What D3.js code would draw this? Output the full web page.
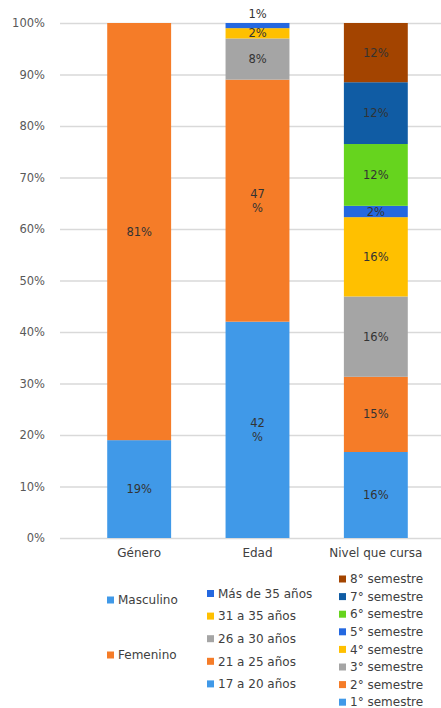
<!DOCTYPE html>
<html lang="es">
<head>
  <meta charset="UTF-8">
  <title>Género, Edad y Nivel que cursa</title>
  <style>
    body {
      margin: 0;
      background-color: #fff;
      font-family: "DejaVu Sans", sans-serif;
    }
    svg text {
      font-family: "DejaVu Sans", sans-serif;
    }
  </style>
  <script src="https://d3js.org/d3.v7.min.js"></script>
</head>
<body>
  <div id="chart"></div>

  <script>
    // Categories on the x axis
    const categories = ['Género', 'Edad', 'Nivel que cursa'];

    // Género
    const generoSeries = ['Masculino', 'Femenino'];
    const generoValues = [19, 81];
    const generoLabels = ['19%', '81%'];

    // Edad
    const edadSeries = ['17 a 20 años', '21 a 25 años', '26 a 30 años', '31 a 35 años', 'Más de 35 años'];
    const edadValues = [42, 47, 8, 2, 1];
    const edadLabels = ['42\n%', '47\n%', '8%', '2%', '1%'];

    // Nivel que cursa
    const nivelSeries = ['1° semestre', '2° semestre', '3° semestre', '4° semestre',
      '5° semestre', '6° semestre', '7° semestre', '8° semestre'];
    const nivelValues = [16.7, 14.6, 15.6, 15.4, 2.2, 12, 12, 11.5];
    const nivelLabels = ['16%', '15%', '16%', '16%', '2%', '12%', '12%', '12%'];

    // Y axis ticks
    const yTicks = [0, 10, 20, 30, 40, 50, 60, 70, 80, 90, 100];

    // Colours, bottom segment first
    const generoColors = ['#4099E8', '#F57C28'];
    const edadColors = ['#4099E8', '#F57C28', '#A5A5A5', '#FFC000', '#2468E0'];
    const nivelColors = ['#4099E8', '#F57C28', '#A5A5A5', '#FFC000', '#2468E0', '#66D41E', '#105CA4', '#A34400'];

    const groups = [
      { series: generoSeries, values: generoValues, labels: generoLabels, colors: generoColors },
      { series: edadSeries, values: edadValues, labels: edadLabels, colors: edadColors },
      { series: nivelSeries, values: nivelValues, labels: nivelLabels, colors: nivelColors }
    ];

    const width = 441;
    const height = 708;
    const plot = { left: 60, right: 441, top: 23, bottom: 538 };

    const svg = d3.select('#chart')
      .append('svg')
      .attr('width', width)
      .attr('height', height);

    const x = d3.scaleBand()
      .domain(categories)
      .range([80, 435])
      .paddingInner(0.46)
      .paddingOuter(0.23);

    const y = d3.scaleLinear()
      .domain([0, 100])
      .range([plot.bottom, plot.top]);

    // Gridlines + tick labels
    const yAxis = d3.axisLeft(y)
      .tickValues(yTicks)
      .tickFormat(d => d + '%')
      .tickSize(-(plot.right - plot.left))
      .tickPadding(15);

    const axisG = svg.append('g')
      .attr('transform', `translate(${plot.left},0)`)
      .call(yAxis);
    axisG.select('.domain').remove();
    axisG.selectAll('line')
      .attr('stroke', '#d9d9d9')
      .attr('stroke-width', 1.5);
    axisG.selectAll('text')
      .attr('fill', '#595959')
      .style('font-size', '11.5px');

    // Stacked bars
    groups.forEach((g, gi) => {
      const cat = categories[gi];
      let acc = 0;
      const segs = g.values.map((v, i) => {
        const s = { y0: acc, y1: acc + v, color: g.colors[i], label: g.labels[i] };
        acc += v;
        return s;
      });

      const barG = svg.append('g');

      barG.selectAll('rect')
        .data(segs)
        .enter()
        .append('rect')
        .attr('x', x(cat))
        .attr('width', x.bandwidth())
        .attr('y', d => y(d.y1))
        .attr('height', d => y(d.y0) - y(d.y1))
        .attr('fill', d => d.color);

      barG.selectAll('text')
        .data(segs)
        .enter()
        .append('text')
        .attr('text-anchor', 'middle')
        .attr('fill', '#333')
        .style('font-size', '11.5px')
        .each(function (d) {
          const segH = y(d.y0) - y(d.y1);
          const lines = d.label.split('\n');
          const cx = x(cat) + x.bandwidth() / 2;
          // too thin: put label above the bar
          const cy = segH < 8 ? y(d.y1) - 9 : (y(d.y0) + y(d.y1)) / 2;
          const t = d3.select(this);
          lines.forEach((ln, li) => {
            t.append('tspan')
              .attr('x', cx)
              .attr('y', cy + (li - (lines.length - 1) / 2) * 14)
              .attr('dy', '0.35em')
              .text(ln);
          });
        });
    });

    // Category labels
    svg.append('g')
      .selectAll('text')
      .data(categories)
      .enter()
      .append('text')
      .attr('x', d => x(d) + x.bandwidth() / 2)
      .attr('y', 553)
      .attr('dy', '0.35em')
      .attr('text-anchor', 'middle')
      .attr('fill', '#404040')
      .style('font-size', '12px')
      .text(d => d);

    // Legends (one column per category)
    const legendCols = [
      { x: 107, top: 600, step: 55, reverse: false },
      { x: 207, top: 593.5, step: 22.6, reverse: true },
      { x: 339, top: 579, step: 17.6, reverse: true }
    ];

    groups.forEach((g, gi) => {
      const col = legendCols[gi];
      let items = g.series.map((s, i) => ({ name: s, color: g.colors[i] }));
      if (col.reverse) items = items.reverse();
      const lg = svg.append('g')
        .attr('transform', `translate(${col.x},${col.top})`);

      const row = lg.selectAll('g')
        .data(items)
        .enter()
        .append('g')
        .attr('transform', (d, i) => `translate(0,${i * col.step})`);

      row.append('rect')
        .attr('x', 0)
        .attr('y', -3.5)
        .attr('width', 7)
        .attr('height', 7)
        .attr('fill', d => d.color);

      row.append('text')
        .attr('x', 11)
        .attr('dy', '0.35em')
        .attr('fill', '#404040')
        .style('font-size', '12px')
        .text(d => d.name);
    });
  </script>
</body>
</html>
